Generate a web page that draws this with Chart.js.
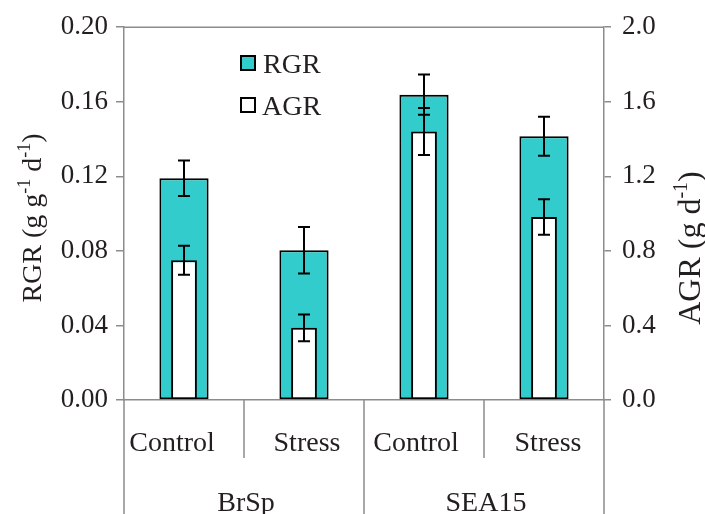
<!DOCTYPE html>
<html><head><meta charset="utf-8">
<script src="https://cdn.jsdelivr.net/npm/chart.js@4"></script>
<style>html,body{margin:0;padding:0;background:#fff}#wrap{width:705px;height:514px;position:relative}</style>
</head><body><div id="wrap"><canvas id="c" width="705" height="514"></canvas></div>
<script>
const categories = ['Control','Stress','Control','Stress'];
const groups = ['BrSp','SEA15'];
const rgrValues = [0.119, 0.0803, 0.1638, 0.1415];
const rgrErrors = [0.0095, 0.0125, 0.0108, 0.0105];
const agrValues = [0.75, 0.387, 1.441, 0.982];
const agrErrors = [0.078, 0.072, 0.126, 0.095];
const rgrTicks = [0, 0.04, 0.08, 0.12, 0.16, 0.20];
const rgrTickLabels = ['0.00','0.04','0.08','0.12','0.16','0.20'];
const agrTicks = [0, 0.4, 0.8, 1.2, 1.6, 2.0];
const agrTickLabels = ['0.0','0.4','0.8','1.2','1.6','2.0'];

const SERIF = '"Liberation Serif", "Times New Roman", serif';
const TEXT = '#231f20';
const AXIS = '#8c8c8c';
const TEAL = '#33cccc';

function drawRich(ctx, parts, size, supSize, rise) {
  ctx.textAlign = 'left';
  ctx.textBaseline = 'alphabetic';
  let total = 0;
  parts.forEach(p => { ctx.font = (p[1] ? supSize : size) + 'px ' + SERIF; total += ctx.measureText(p[0]).width; });
  let x = -total / 2;
  parts.forEach(p => {
    ctx.font = (p[1] ? supSize : size) + 'px ' + SERIF;
    ctx.fillText(p[0], x, p[1] ? -rise : 0);
    x += ctx.measureText(p[0]).width;
  });
}

const errorBars = {
  id: 'errorBars',
  afterDatasetsDraw(chart) {
    const ctx = chart.ctx, xs = chart.scales.x, y = chart.scales.y, y1 = chart.scales.y1;
    ctx.save();
    ctx.strokeStyle = '#000'; ctx.lineWidth = 2;
    const draw = (vals, errs, sc) => {
      vals.forEach((v, i) => {
        const x = xs.getPixelForValue(i);
        const top = sc.getPixelForValue(v + errs[i]);
        const bot = sc.getPixelForValue(v - errs[i]);
        ctx.beginPath();
        ctx.moveTo(x, top); ctx.lineTo(x, bot);
        ctx.moveTo(x - 6, top); ctx.lineTo(x + 6, top);
        ctx.moveTo(x - 6, bot); ctx.lineTo(x + 6, bot);
        ctx.stroke();
      });
    };
    draw(rgrValues, rgrErrors, y);
    draw(agrValues, agrErrors, y1);
    ctx.restore();
  }
};

const decor = {
  id: 'decor',
  afterDraw(chart) {
    const ctx = chart.ctx, a = chart.chartArea, xs = chart.scales.x;
    const H = chart.height;
    ctx.save();
    ctx.strokeStyle = AXIS; ctx.lineWidth = 1.5;
    // top frame
    ctx.beginPath(); ctx.moveTo(a.left, a.top); ctx.lineTo(a.right, a.top); ctx.stroke();
    // extensions and separators
    const n = categories.length;
    const cw = (a.right - a.left) / n;
    ctx.beginPath();
    ctx.moveTo(a.left, a.bottom); ctx.lineTo(a.left, H);
    ctx.moveTo(a.right, a.bottom); ctx.lineTo(a.right, H);
    ctx.moveTo(a.left + cw * 2, a.bottom); ctx.lineTo(a.left + cw * 2, H);
    ctx.moveTo(a.left + cw, a.bottom); ctx.lineTo(a.left + cw, a.bottom + 58);
    ctx.moveTo(a.left + cw * 3, a.bottom); ctx.lineTo(a.left + cw * 3, a.bottom + 58);
    ctx.stroke();
    // category labels
    ctx.fillStyle = TEXT;
    ctx.font = '28px ' + SERIF;
    ctx.textAlign = 'center'; ctx.textBaseline = 'alphabetic';
    const catShift = [-12, 3, -8, 4];
    categories.forEach((c, i) => ctx.fillText(c, xs.getPixelForValue(i) + catShift[i], a.bottom + 51));
    groups.forEach((g, gi) => {
      const cx = (xs.getPixelForValue(gi * 2) + xs.getPixelForValue(gi * 2 + 1)) / 2;
      ctx.fillText(g, cx + 2, a.bottom + 111);
    });
    // axis titles
    ctx.save();
    ctx.translate(40.5, 218); ctx.rotate(-Math.PI / 2);
    drawRich(ctx, [['RGR (g g', false], ['-1', true], [' d', false], ['-1', true], [')', false]], 28, 18, 11);
    ctx.restore();
    ctx.save();
    ctx.translate(700, 248); ctx.rotate(-Math.PI / 2);
    drawRich(ctx, [['AGR (g d', false], ['-1', true], [')', false]], 32, 20, 13);
    ctx.restore();
    // legend
    ctx.textAlign = 'left';
    ctx.lineWidth = 2; ctx.strokeStyle = '#000';
    ctx.fillStyle = TEAL; ctx.fillRect(241, 56, 14, 14); ctx.strokeRect(241, 56, 14, 14);
    ctx.fillStyle = '#fff'; ctx.fillRect(241, 98, 14, 14); ctx.strokeRect(241, 98, 14, 14);
    ctx.fillStyle = TEXT; ctx.font = '28px ' + SERIF;
    ctx.fillText('RGR', 263, 73);
    ctx.fillText('AGR', 262, 115);
    ctx.restore();
  }
};

const tickFont = { family: SERIF, size: 27 };

new Chart(document.getElementById('c'), {
  type: 'bar',
  data: {
    labels: categories,
    datasets: [
      { label: 'RGR', data: rgrValues, yAxisID: 'y', backgroundColor: TEAL, borderColor: '#000', borderWidth: 2,
        borderSkipped: false, barPercentage: 0.41, categoryPercentage: 1, order: 2 },
      { label: 'AGR', data: agrValues, yAxisID: 'y1', backgroundColor: '#fff', borderColor: '#000', borderWidth: 2,
        borderSkipped: false, barPercentage: 0.215, categoryPercentage: 1, order: 1 }
    ]
  },
  options: {
    responsive: false, animation: false, devicePixelRatio: 1,
    layout: { padding: { top: 24, left: 0, right: 0, bottom: 0 } },
    plugins: { legend: { display: false }, tooltip: { enabled: false } },
    datasets: { bar: { grouped: false } },
    scales: {
      x: {
        ticks: { display: false }, grid: { display: false },
        border: { display: true, color: AXIS, width: 1.5 },
        afterFit: s => { s.height = 114; }
      },
      y: {
        position: 'left', min: 0, max: 0.2,
        afterBuildTicks: s => { s.ticks = rgrTicks.map(v => ({ value: v })); },
        ticks: { callback: (v, i) => rgrTickLabels[i], font: tickFont, color: TEXT, padding: 8 },
        grid: { drawOnChartArea: false, tickLength: 8, color: AXIS, lineWidth: 1.5 },
        border: { color: AXIS, width: 1.5 },
        afterFit: s => { s.width = 124; }
      },
      y1: {
        position: 'right', min: 0, max: 2.0,
        afterBuildTicks: s => { s.ticks = agrTicks.map(v => ({ value: v })); },
        ticks: { callback: (v, i) => agrTickLabels[i], font: tickFont, color: TEXT, padding: 11 },
        grid: { drawOnChartArea: false, tickLength: 7, color: AXIS, lineWidth: 1.5 },
        border: { color: AXIS, width: 1.5 },
        afterFit: s => { s.width = 101; }
      }
    }
  },
  plugins: [errorBars, decor]
});
</script>
</body></html>
